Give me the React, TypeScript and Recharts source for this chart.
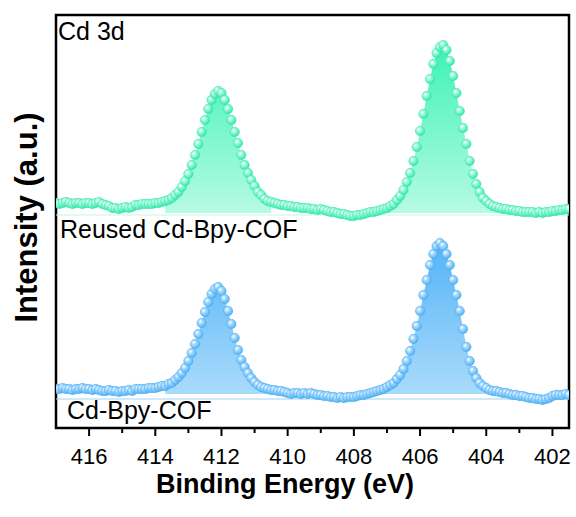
import React from "react";
import { ComposedChart, Area, Line, XAxis, YAxis, ReferenceLine, ReferenceArea } from "recharts";

// binding energy (eV), 0.1 eV steps
const energy = [
  417.0, 416.9, 416.8, 416.7, 416.6, 416.5, 416.4, 416.3, 416.2, 416.1,
  416.0, 415.9, 415.8, 415.7, 415.6, 415.5, 415.4, 415.3, 415.2, 415.1,
  415.0, 414.9, 414.8, 414.7, 414.6, 414.5, 414.4, 414.3, 414.2, 414.1,
  414.0, 413.9, 413.8, 413.7, 413.6, 413.5, 413.4, 413.3, 413.2, 413.1,
  413.0, 412.9, 412.8, 412.7, 412.6, 412.5, 412.4, 412.3, 412.2, 412.1,
  412.0, 411.9, 411.8, 411.7, 411.6, 411.5, 411.4, 411.3, 411.2, 411.1,
  411.0, 410.9, 410.8, 410.7, 410.6, 410.5, 410.4, 410.3, 410.2, 410.1,
  410.0, 409.9, 409.8, 409.7, 409.6, 409.5, 409.4, 409.3, 409.2, 409.1,
  409.0, 408.9, 408.8, 408.7, 408.6, 408.5, 408.4, 408.3, 408.2, 408.1,
  408.0, 407.9, 407.8, 407.7, 407.6, 407.5, 407.4, 407.3, 407.2, 407.1,
  407.0, 406.9, 406.8, 406.7, 406.6, 406.5, 406.4, 406.3, 406.2, 406.1,
  406.0, 405.9, 405.8, 405.7, 405.6, 405.5, 405.4, 405.3, 405.2, 405.1,
  405.0, 404.9, 404.8, 404.7, 404.6, 404.5, 404.4, 404.3, 404.2, 404.1,
  404.0, 403.9, 403.8, 403.7, 403.6, 403.5, 403.4, 403.3, 403.2, 403.1,
  403.0, 402.9, 402.8, 402.7, 402.6, 402.5, 402.4, 402.3, 402.2, 402.1,
  402.0, 401.9, 401.8, 401.7, 401.6, 401.5,
];

// Reused Cd-Bpy-COF (offset upward)
const reused = [
  225, 224, 225, 226, 225, 224, 225, 225, 224, 225,
  225, 224, 225, 226, 224, 223, 222, 220, 220, 219,
  220, 221, 220, 221, 223, 223, 224, 224, 224, 224,
  225, 225, 226, 227, 228, 230, 233, 236, 241, 247,
  254, 263, 273, 284, 296, 308, 319, 328, 334, 337,
  335, 328, 319, 308, 296, 285, 273, 263, 255, 248,
  242, 236, 233, 229, 227, 226, 225, 224, 223, 223,
  222, 222, 221, 221, 220, 220, 220, 219, 219, 218,
  219, 218, 217, 216, 216, 215, 214, 214, 213, 212,
  212, 213, 213, 214, 215, 216, 216, 217, 218, 219,
  220, 222, 224, 228, 232, 238, 246, 255, 267, 281,
  297, 314, 332, 349, 364, 375, 381, 383, 378, 367,
  352, 335, 317, 300, 284, 267, 254, 244, 236, 230,
  227, 224, 222, 221, 220, 219, 219, 218, 218, 217,
  217, 216, 216, 216, 216, 215, 216, 215, 216, 216,
  217, 217, 218, 218, 219, 219,
];

// Cd-Bpy-COF
const fresh = [
  39, 39, 40, 39, 39, 38, 39, 39, 40, 39,
  39, 38, 39, 38, 37, 37, 38, 37, 37, 36,
  37, 37, 38, 37, 39, 39, 39, 39, 40, 40,
  40, 41, 42, 42, 44, 45, 48, 51, 55, 60,
  67, 75, 84, 94, 105, 116, 126, 134, 139, 141,
  137, 129, 117, 104, 90, 78, 68, 61, 55, 50,
  46, 43, 41, 40, 39, 38, 38, 37, 37, 36,
  35, 34, 35, 35, 34, 35, 34, 35, 34, 33,
  33, 32, 32, 31, 31, 30, 31, 30, 31, 31,
  31, 32, 33, 33, 34, 35, 36, 37, 38, 39,
  41, 43, 45, 49, 53, 59, 67, 77, 89, 102,
  117, 133, 148, 163, 174, 182, 185, 182, 174, 163,
  148, 133, 117, 99, 81, 67, 57, 50, 45, 42,
  40, 38, 37, 37, 36, 35, 35, 34, 33, 33,
  32, 32, 31, 30, 30, 29, 29, 28, 29, 30,
  32, 33, 33, 33, 34, 33,
];

// shaded peak ranges [low, high] in eV and their background level
const reusedPeaks = [[410.5, 413.7], [403.5, 407.2]];
const freshPeaks = [[410.4, 413.7], [403.7, 407.2]];
const reusedBg = 215;
const freshBg = 34;

// ticks every 1 eV, labels on the even ones
const ticks = [402, 403, 404, 405, 406, 407, 408, 409, 410, 411, 412, 413, 414, 415, 416];

const inPeak = (e: number, wins: number[][]) => wins.some(([a, b]) => e >= a && e <= b);

const data = energy.map((e, i) => ({
  e,
  reused: reused[i],
  fresh: fresh[i],
  reusedFill: inPeak(e, reusedPeaks) ? [reusedBg, reused[i]] : null,
  freshFill: inPeak(e, freshPeaks) ? [freshBg, fresh[i]] : null,
}));

const FONT = "'Liberation Sans', Arial, Helvetica, sans-serif";

const bead = (grad: string, edge: string) => (props: any) => {
  const { cx, cy, index } = props;
  if (cx == null || cy == null) return <g key={index} />;
  return <circle key={index} cx={cx} cy={cy} r={4.7} fill={`url(#${grad})`} stroke={edge} strokeWidth={0.5} />;
};

export default function App() {
  return (
    <div style={{ position: "absolute", left: 0, top: 0 }}>
      {/* y range goes a little below 0 so the tick marks sit inside the plot box */}
      <ComposedChart width={576} height={517} data={data}
                     margin={{ top: 15, right: 7, bottom: 0, left: 56 }}>
        <defs>
          <linearGradient id="fillTop" x1="0" y1="0" x2="0" y2="1">
            <stop offset="0%" stopColor="#3ef2b6" />
            <stop offset="100%" stopColor="#b6fbe3" />
          </linearGradient>
          <linearGradient id="fillBot" x1="0" y1="0" x2="0" y2="1">
            <stop offset="0%" stopColor="#55b3f7" />
            <stop offset="100%" stopColor="#a9dbfb" />
          </linearGradient>
          <radialGradient id="beadTop" cx="38%" cy="35%" r="65%">
            <stop offset="0%" stopColor="#ffffff" />
            <stop offset="35%" stopColor="#9ffadb" />
            <stop offset="100%" stopColor="#30eaa8" />
          </radialGradient>
          <radialGradient id="beadBot" cx="38%" cy="35%" r="65%">
            <stop offset="0%" stopColor="#ffffff" />
            <stop offset="35%" stopColor="#a6daff" />
            <stop offset="100%" stopColor="#4fb2f5" />
          </radialGradient>
        </defs>

        <XAxis dataKey="e" type="number" domain={[401.5, 417]} reversed allowDataOverflow
               ticks={ticks} interval={0} height={79} tickSize={0} tickMargin={10}
               tickLine={false}
               tickFormatter={(v: number) => (v % 2 === 0 ? String(v) : "")}
               tick={{ fontSize: 22, fill: "#000", fontFamily: FONT }}
               axisLine={false} />
        <YAxis yAxisId="l" domain={[-10, 413]} allowDataOverflow hide />

        <ReferenceLine yAxisId="l" y={213} stroke="#c4f7e6" strokeWidth={1.2} />
        <ReferenceLine yAxisId="l" y={29} stroke="#9fd3f5" strokeWidth={1.2} />

        <Area yAxisId="l" type="linear" dataKey="reusedFill" stroke="none" fill="url(#fillTop)"
              fillOpacity={1} isAnimationActive={false} dot={false} activeDot={false} />
        <Area yAxisId="l" type="linear" dataKey="freshFill" stroke="none" fill="url(#fillBot)"
              fillOpacity={1} isAnimationActive={false} dot={false} activeDot={false} />

        <Line yAxisId="l" type="linear" dataKey="reused" stroke="none" isAnimationActive={false}
              dot={bead("beadTop", "#36e3a8")} activeDot={false} />
        <Line yAxisId="l" type="linear" dataKey="fresh" stroke="none" isAnimationActive={false}
              dot={bead("beadBot", "#4aa9ee")} activeDot={false} />

        <ReferenceArea yAxisId="l" x1={417} x2={401.5} y1={0} y2={413} fill="none" fillOpacity={0}
                       stroke="#000" strokeWidth={2.5} ifOverflow="visible" />

        {ticks.map((t) => (
          <ReferenceArea key={t} yAxisId="l" ifOverflow="visible"
                         x1={t + 0.03} x2={t - 0.03} y1={t % 2 === 0 ? -8 : -5} y2={0}
                         fill="#000" fillOpacity={1} stroke="none" />
        ))}

        <text x={58} y={40} fontSize={25} fontFamily={FONT} fill="#000">Cd 3d</text>
        <text x={60} y={238} fontSize={25} fontFamily={FONT} fill="#000">Reused Cd-Bpy-COF</text>
        <text x={67} y={419} fontSize={25} fontFamily={FONT} fill="#000">Cd-Bpy-COF</text>

        <text x={285} y={493} textAnchor="middle" fontSize={27} fontWeight="bold"
              fontFamily={FONT} fill="#000">Binding Energy (eV)</text>
        <text transform="translate(37,217.5) rotate(-90)" textAnchor="middle" fontSize={31}
              fontWeight="bold" fontFamily={FONT} fill="#000">Intensity (a.u.)</text>
      </ComposedChart>
    </div>
  );
}
